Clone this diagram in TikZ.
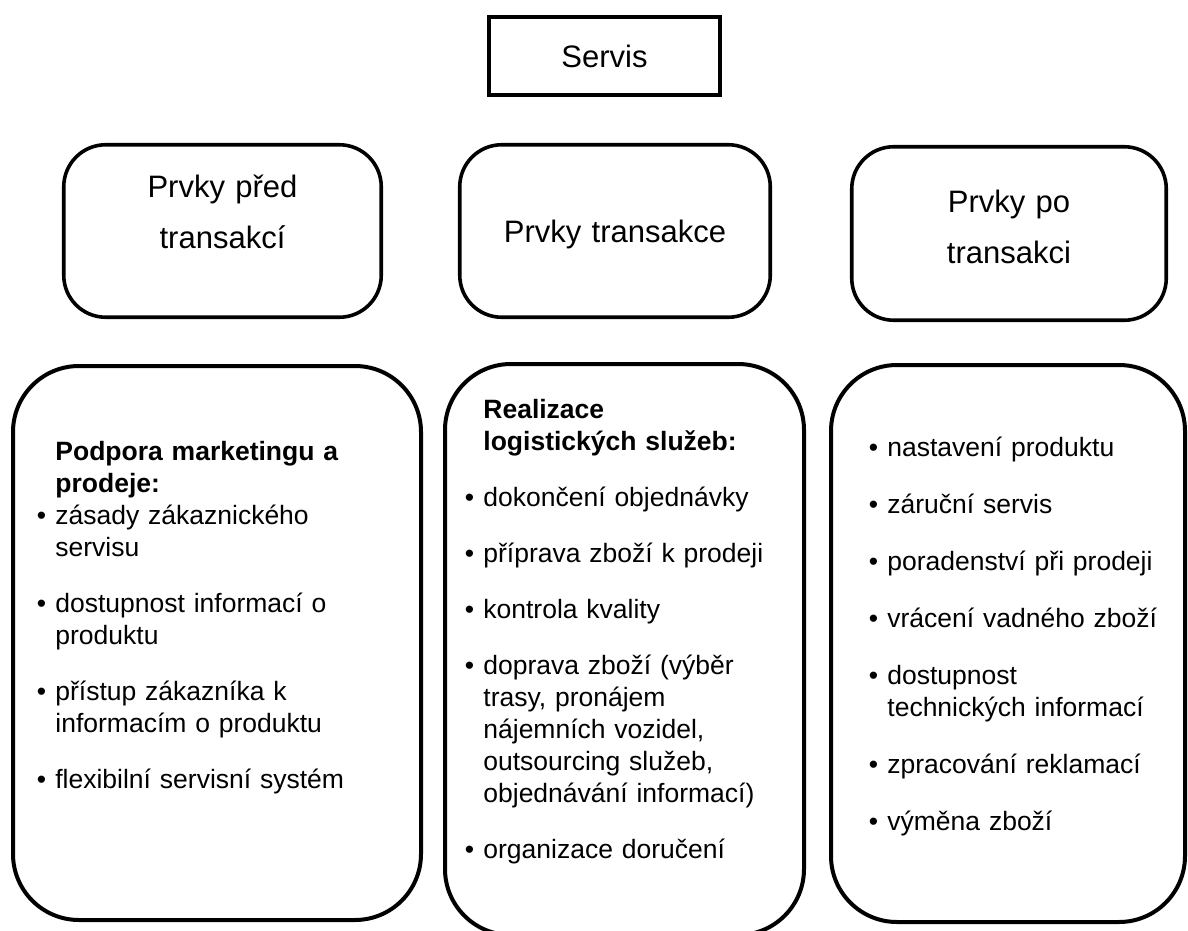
\documentclass[tikz,border=0pt]{standalone}
\usepackage{fontspec}
\setmainfont{Liberation Sans}

\newcommand{\odr}{\noindent\hangindent=9.3pt\makebox[9.3pt][l]{\textbullet}}
\newcommand{\nadpis}[1]{\noindent\hangindent=9.3pt\hangafter=0{\bfseries #1}}

\begin{document}
\begin{tikzpicture}[x=0.5pt,y=-0.5pt,
  hlava/.style={draw,line width=2pt,minimum width=115.5pt,minimum height=39pt,inner sep=0pt,font=\fontsize{15.5pt}{18pt}\selectfont},
  faze/.style={draw,line width=1.8pt,rounded corners=21pt,inner sep=0pt},
  fazetext/.style={text width=150pt,align=center,anchor=base,inner sep=0pt,font=\fontsize{15.5pt}{25.5pt}\selectfont},
  seznam/.style={draw,line width=2pt,rounded corners=33pt,inner sep=0pt},
  polozky/.style={text width=180pt,anchor=base west,inner sep=0pt,font=\fontsize{13.25pt}{16pt}\selectfont}]
\useasboundingbox (0,0) rectangle (1188,931); % --- page size

\node[hlava] (servis) at (604.5,56) {Servis}; % --- top box

% --- middle row
\node[faze,minimum width=158.75pt,minimum height=86.25pt] (pred) at (222.5,231) {};
\node[faze,minimum width=155.25pt,minimum height=86.25pt] (trans) at (615,231) {};
\node[faze,minimum width=157.25pt,minimum height=86.75pt] (po) at (1009,233.5) {};
\node[fazetext] (predText) at (222.5,197) {Prvky před\\transakcí};
\node[fazetext] (transText) at (615,242) {Prvky transakce};
\node[fazetext] (poText) at (1009,212) {Prvky po\\transakci};

% --- bottom row
\node[seznam,minimum width=204pt,minimum height=277pt] (predBox) at (217,643) {};
\node[seznam,minimum width=179.5pt,minimum height=285.5pt] (transBox) at (624.5,649.5) {};
\node[seznam,minimum width=177pt,minimum height=278.5pt] (poBox) at (1008,643.5) {};

\node[polozky] (predList) at (36.4,460) {\setlength{\parskip}{12pt}%
\nadpis{Podpora marketingu a\newline prodeje:}\par\vspace{-12pt}

\odr zásady zákaznického\newline servisu

\odr dostupnost informací o\newline produktu

\odr přístup zákazníka k\newline informacím o produktu

\odr flexibilní servisní systém\par};

\node[polozky] (transList) at (464.4,418) {\setlength{\parskip}{12pt}%
\nadpis{Realizace\newline logistických služeb:}

\odr dokončení objednávky

\odr příprava zboží k prodeji

\odr kontrola kvality

\odr doprava zboží (výběr\newline trasy, pronájem\newline nájemních vozidel,\newline outsourcing služeb,\newline objednávání informací)

\odr organizace doručení\par};

\node[polozky] (poList) at (868.4,456) {\setlength{\parskip}{12.5pt}%
\odr nastavení produktu

\odr záruční servis

\odr poradenství při prodeji

\odr vrácení vadného zboží

\odr dostupnost\newline technických informací

\odr zpracování reklamací

\odr výměna zboží\par};
\end{tikzpicture}
\end{document}
